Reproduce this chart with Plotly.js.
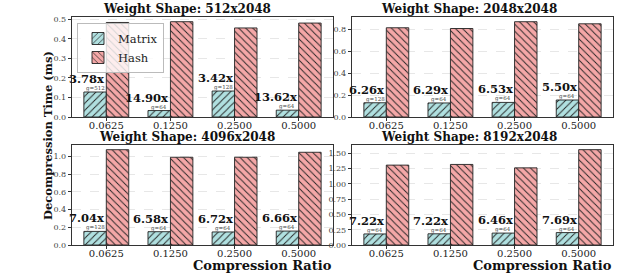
<!DOCTYPE html>
<html>
<head>
<meta charset="utf-8">
<script src="https://cdn.plot.ly/plotly-3.0.1.min.js"></script>
<style>html,body{margin:0;padding:0;background:#fff;}#chart{width:628px;height:276px;}</style>
</head>
<body>
<div id="chart"></div>
<script>
// ---- data ----
const categories = ["0.0625", "0.1250", "0.2500", "0.5000"];
const shapes = ["512x2048", "2048x2048", "4096x2048", "8192x2048"];
const matrix512 = [0.128, 0.033, 0.133, 0.035];
const hash512 = [0.484, 0.488, 0.456, 0.481];
const speedup512 = [3.78, 14.90, 3.42, 13.62];
const group512 = [512, 64, 128, 64];
const matrix2048 = [0.130, 0.128, 0.133, 0.155];
const hash2048 = [0.814, 0.807, 0.869, 0.850];
const speedup2048 = [6.26, 6.29, 6.53, 5.50];
const group2048 = [128, 64, 64, 64];
const matrix4096 = [0.153, 0.150, 0.147, 0.157];
const hash4096 = [1.074, 0.989, 0.989, 1.045];
const speedup4096 = [7.04, 6.58, 6.72, 6.66];
const group4096 = [128, 64, 64, 64];
const matrix8192 = [0.181, 0.183, 0.195, 0.203];
const hash8192 = [1.307, 1.318, 1.262, 1.560];
const speedup8192 = [7.22, 7.22, 6.46, 7.69];
const group8192 = [64, 64, 64, 64];

const panels = [
  {matrix: matrix512, hash: hash512, speed: speedup512, g: group512, ymax: 0.512, dtick: 0.1, fmt: ".1f"},
  {matrix: matrix2048, hash: hash2048, speed: speedup2048, g: group2048, ymax: 0.912, dtick: 0.2, fmt: ".1f"},
  {matrix: matrix4096, hash: hash4096, speed: speedup4096, g: group4096, ymax: 1.127, dtick: 0.2, fmt: ".1f"},
  {matrix: matrix8192, hash: hash8192, speed: speedup8192, g: group8192, ymax: 1.636, dtick: 0.25, fmt: ".2f"}
];

const W = 628, H = 276;
const MATRIX_COLOR = "#b0e0e0";
const HASH_COLOR = "#f4a7a7";
const SERIF = "DejaVu Serif";
const idx = categories.map((c, i) => i);

// pixel boxes [left, right, top, bottom]
const boxes = [[72, 333, 17, 117], [352, 613, 17, 117], [72, 333, 145, 245], [352, 613, 145, 245]];
const titleX = [187, 469, 187, 469];

const traces = [];
const annotations = [];
const layout = {
  width: W, height: H,
  margin: {l: 0, r: 0, t: 0, b: 0},
  paper_bgcolor: "#fff", plot_bgcolor: "#fff",
  barmode: "overlay",
  showlegend: true,
  font: {family: SERIF, color: "#222"},
  legend: {
    x: 77 / W, y: 1 - 23 / H, xanchor: "left", yanchor: "top",
    bgcolor: "rgba(255,255,255,0.8)", bordercolor: "#bbb", borderwidth: 1,
    font: {family: SERIF, size: 11.5, color: "#222"},
    tracegroupgap: 0
  }
};

panels.forEach((p, k) => {
  const n = k === 0 ? "" : String(k + 1);
  const xa = "x" + n, ya = "y" + n;
  const b = boxes[k];
  layout["xaxis" + n] = {
    domain: [b[0] / W, b[1] / W], anchor: ya,
    range: [-0.535, 3.535],
    tickvals: idx, ticktext: categories,
    showline: true, mirror: true, linecolor: "#333", linewidth: 1.2,
    ticks: "outside", ticklen: 3, tickcolor: "#333",
    ticklabelstandoff: -4,
    showgrid: false, zeroline: false,
    tickfont: {family: SERIF, size: 10, color: "#222"}
  };
  layout["yaxis" + n] = {
    domain: [1 - b[3] / H, 1 - b[2] / H], anchor: xa,
    range: [0, p.ymax], dtick: p.dtick, tick0: 0, tickformat: p.fmt,
    showline: true, mirror: true, linecolor: "#333", linewidth: 1.2,
    ticks: "outside", ticklen: 3, tickcolor: "#333",
    showgrid: true, gridcolor: "#dddddd", griddash: "dash", gridwidth: 0.7,
    zeroline: false,
    tickfont: {family: SERIF, size: 8, color: "#444"}
  };
  traces.push({
    type: "bar", name: "Matrix", x: idx, y: p.matrix, xaxis: xa, yaxis: ya,
    offset: -0.35, width: 0.35, legendgroup: "m", showlegend: k === 0,
    marker: {color: MATRIX_COLOR, line: {color: "#222", width: 0.9},
      pattern: {shape: "/", fgcolor: "#222", bgcolor: MATRIX_COLOR, fillmode: "replace", size: 5, solidity: 0.18}},
    hoverinfo: "skip"
  });
  traces.push({
    type: "bar", name: "Hash", x: idx, y: p.hash, xaxis: xa, yaxis: ya,
    offset: 0, width: 0.35, legendgroup: "h", showlegend: k === 0,
    marker: {color: HASH_COLOR, line: {color: "#222", width: 0.9},
      pattern: {shape: "\\", fgcolor: "#222", bgcolor: HASH_COLOR, fillmode: "replace", size: 5, solidity: 0.18}},
    hoverinfo: "skip"
  });
  // subplot title
  annotations.push({
    xref: "paper", yref: "paper", x: titleX[k] / W, y: 1 - (b[2] - 8) / H,
    xanchor: "center", yanchor: "middle", showarrow: false,
    text: "<b>Weight Shape: " + shapes[k] + "</b>",
    font: {family: SERIF, size: 12, color: "#111"}
  });
  p.matrix.forEach((v, i) => {
    annotations.push({
      xref: xa, yref: ya, x: i, y: v, xanchor: "right", yanchor: "bottom",
      yshift: 4, showarrow: false,
      text: "<b>" + p.speed[i].toFixed(2) + "x</b>",
      font: {family: SERIF, size: 11.5, color: "#111"}
    });
    annotations.push({
      xref: xa, yref: ya, x: i - 0.175, y: v, xanchor: "center", yanchor: "bottom",
      yshift: -2, showarrow: false,
      text: "g=" + p.g[i],
      font: {family: SERIF, size: 5.5, color: "#444"}
    });
  });
});

// axis labels
annotations.push({
  xref: "paper", yref: "paper", x: 334 / W, y: 1 - 265 / H,
  xanchor: "right", yanchor: "middle", showarrow: false,
  text: "<b>Compression Ratio</b>", font: {family: SERIF, size: 13, color: "#111"}
});
annotations.push({
  xref: "paper", yref: "paper", x: 614 / W, y: 1 - 265 / H,
  xanchor: "right", yanchor: "middle", showarrow: false,
  text: "<b>Compression Ratio</b>", font: {family: SERIF, size: 13, color: "#111"}
});
annotations.push({
  xref: "paper", yref: "paper", x: 48 / W, y: 1 - 136 / H,
  xanchor: "center", yanchor: "middle", showarrow: false, textangle: -90,
  text: "<b>Decompression Time (ms)</b>", font: {family: SERIF, size: 11.5, color: "#111"}
});
layout.annotations = annotations;

Plotly.newPlot("chart", traces, layout, {staticPlot: true, displayModeBar: false});
</script>
</body>
</html>
